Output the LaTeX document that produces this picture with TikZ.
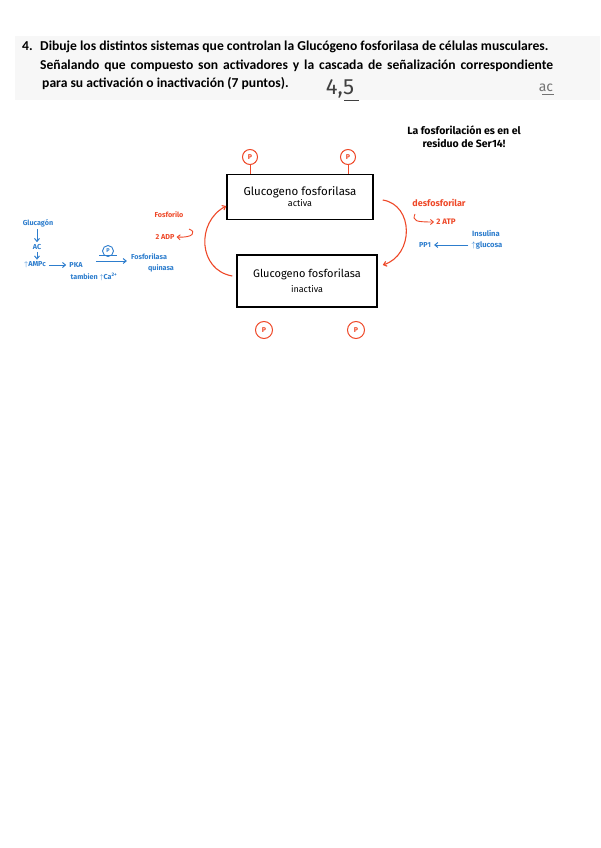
\documentclass[tikz,border=0pt]{standalone}
\usepackage{fontspec}
\setmainfont{Carlito}
\newfontfamily\handfont{Fira Sans}
\usepackage{tikz}
\usetikzlibrary{arrows.meta,positioning}
\definecolor{penred}{RGB}{238,72,40}
\definecolor{penblue}{RGB}{45,125,205}

\begin{document}
\begin{tikzpicture}[
    x=1pt, y=-1pt,
    >={Straight Barb[length=3pt,width=5pt]},
    font=\handfont,
    header/.style={
		anchor=base west,
		inner sep=0pt,
		font=\rmfamily\bfseries\fontsize{13.6}{16}\selectfont
	},
    glucbox/.style={
		rectangle,
		draw=black,
		line width=1.5pt,
		align=center,
		minimum width=146pt,
		minimum height=45pt
	},
    pcircle/.style={
		circle,
		draw=penred,
		line width=1pt,
		text=penred,
		inner sep=0pt,
		minimum size=15pt,
		font=\handfont\bfseries\fontsize{7}{7}\selectfont
	},
    redtxt/.style={
		text=penred,
		inner sep=0pt,
		font=\handfont\bfseries\fontsize{7.2}{8}\selectfont
	},
    bluetxt/.style={
		text=penblue,
		inner sep=0pt,
		font=\handfont\bfseries\fontsize{7.2}{8}\selectfont
	},
    redline/.style={draw=penred, line width=1.1pt, ->},
    blueline/.style={draw=penblue, line width=1pt, ->}
  ]
  \useasboundingbox (0,0) rectangle (600,848);
  \fill[black!3] (15,36) rectangle (600,100);

    % The question on top
  \node [header] (qnum) at (22,51) {4.};
  \node [header] (qline1) at (40,51) {Dibuje los distintos sistemas que controlan la Glucógeno fosforilasa de células musculares.};
  \node [header] (qline2) at (40,70) {\makebox[513pt][s]{Señalando que compuesto son activadores y la cascada de señalización correspondiente}};
  \node [header] (qline3) at (42,88) {para su activación o inactivación (7 puntos).};

  \node [text=black!75, inner sep=0pt, font=\handfont\fontsize{22}{22}\selectfont] (grade) at (340,89) {4,5};
  \draw [black!75, line width=0.8pt] ([xshift=-10pt,yshift=-2pt]grade.south east) -- ([xshift=5pt,yshift=-2pt]grade.south east);
  \node [text=black!55, inner sep=0pt, font=\handfont\fontsize{14}{14}\selectfont] (mark) at (546,88) {ac};
  \draw [black!55, line width=0.8pt] ([xshift=-4pt,yshift=-2pt]mark.south) -- ([xshift=8pt,yshift=-2pt]mark.south);

    % We start by placing the blocks
  \node [glucbox] (activa) at (300,197)
 {{\fontsize{11.5}{13}\selectfont Glucogeno fosforilasa}\\[-1pt]{\fontsize{9}{10}\selectfont activa}};

  \node [glucbox, minimum width=140pt, minimum height=52pt] (inactiva) at (307,281)
 {{\fontsize{11}{13}\selectfont Glucogeno fosforilasa}\\[3pt]{\fontsize{9}{10}\selectfont inactiva}};

  \node [pcircle] (ptopa) at (250,157) {P};
  \node [pcircle] (ptopb) at (348,157) {P};
  \node [pcircle, minimum size=17pt] (pbota) at (264,330) {P};
  \node [pcircle, minimum size=17pt] (pbotb) at (356,330) {P};
  \draw [penred, line width=1pt] (ptopa.south) -- (ptopa |- activa.north);
  \draw [penred, line width=1pt] (ptopb.south) -- (ptopb |- activa.north);

  \node [font=\handfont\bfseries\fontsize{10.5}{13}\selectfont, align=center, inner sep=0pt] (note) at (464,137)
 {La fosforilación es en el\\residuo de Ser14!};

    % Phosphorylation and dephosphorylation
 \draw [redline] ([xshift=-4pt,yshift=5pt]inactiva.west) .. controls (198,270) and (196,222) .. ([yshift=-9pt]activa.west);
 \draw [redline] ([xshift=9pt,yshift=-3pt]activa.east) .. controls (414,205) and (414,255) .. ([xshift=5pt,yshift=16pt]inactiva.east);

  \node [redtxt] (fosforilo) at (169,215) {Fosforilo};
  \node [redtxt] (adp) at (165,237) {2 ADP};
  \coordinate (adphook) at (189,229);
 \draw [redline, line width=0.9pt] (adphook) .. controls (197,232) and (193,238) .. ([xshift=2pt]adp.east);

  \node [redtxt, font=\handfont\bfseries\fontsize{9}{10}\selectfont] (desfos) at (439,203) {desfosforilar};
  \node [redtxt, font=\handfont\bfseries\fontsize{8}{9}\selectfont] (atp) at (446,222) {2 ATP};
  \coordinate (atphook) at (415,214);
 \draw [redline, line width=0.9pt] (atphook) .. controls (412,221) and (416,222) .. ([xshift=-2pt]atp.west);

    % Signals in blue
  \node [bluetxt, font=\handfont\bfseries\fontsize{7.6}{8}\selectfont] (insulina) at (486,233) {Insulina};
  \node [bluetxt, font=\handfont\bfseries\fontsize{7.6}{8}\selectfont] (glucosa) at (487,245) {$\uparrow$glucosa};
  \node [bluetxt] (pp1) at (425,245) {PP1};
 \draw [blueline] ([xshift=-3pt]glucosa.west) -- ([xshift=3pt]pp1.east);

  \node [bluetxt] (glucagon) at (38,223) {Glucagón};
  \node [bluetxt] (ac) at (37,247) {AC};
  \node [bluetxt] (ampc) at (35,265) {$\uparrow$AMPc};
  \node [bluetxt] (pka) at (76,265) {PKA};
  \node [bluetxt] (fkinasa) at (149,257) {Fosforilasa};
  \node [bluetxt] (quinasa) at (161,268) {quinasa};
  \node [bluetxt] (tambien) at (94,277) {tambien $\uparrow$Ca\textsuperscript{2+}};
  \node [circle, draw=penblue, line width=0.9pt, text=penblue, inner sep=0pt, minimum size=11pt,
        font=\handfont\bfseries\fontsize{5.5}{5.5}\selectfont] (pblue) at (108,251) {P};

 \draw [blueline] ([yshift=-2pt]glucagon.south -| ac) -- ([yshift=2pt]ac.north);
 \draw [blueline] ([yshift=-2pt]ac.south) -- ([yshift=2pt]ac.north |- ampc.north);
 \draw [blueline] ([xshift=3pt]ampc.east) -- ([xshift=-3pt]pka.west);
 \draw [blueline] ([xshift=13pt,yshift=4pt]pka.east) -- ([xshift=-4pt,yshift=-4pt]fkinasa.west);
 \draw [penblue, line width=0.9pt] ([xshift=-9pt,yshift=2pt]pblue.south) -- ([xshift=9pt,yshift=2pt]pblue.south);

\end{tikzpicture}
\end{document}
